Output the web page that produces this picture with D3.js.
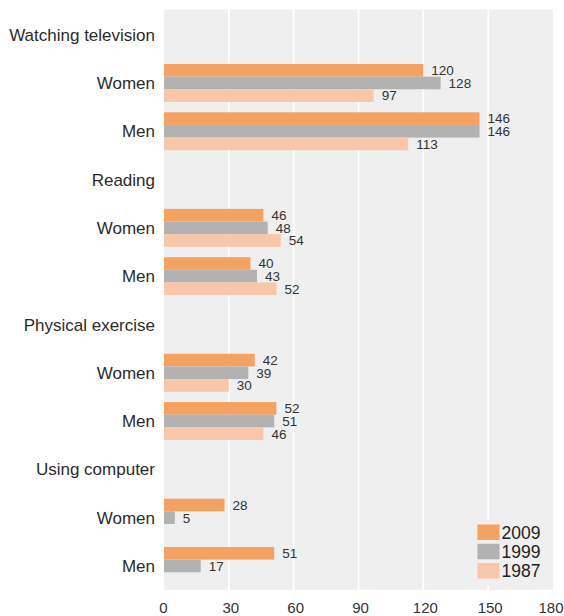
<!DOCTYPE html>
<html><head><meta charset="utf-8">
<script src="https://cdn.jsdelivr.net/npm/d3@7"></script>
<style>body{margin:0;background:#fff;font-family:"Liberation Sans",Arial,Helvetica,sans-serif;}</style>
</head><body><svg id="c" width="564" height="616"></svg>
<script>
const rowLabels = ["Watching television","Women","Men","Reading","Women","Men","Physical exercise","Women","Men","Using computer","Women","Men"];
const series = ["2009","1999","1987"];
const values2009 = [null,120,146,null,46,40,null,42,52,null,28,51];
const values1999 = [null,128,146,null,48,43,null,39,51,null,5,17];
const values1987 = [null,97,113,null,54,52,null,30,46,null,null,null];
const xTicks = [0,30,60,90,120,150,180];
const colors = ["#f4a261","#b2b2b2","#f7c6ab"];

const seriesValues = [values2009, values1999, values1987];
const svg = d3.select("#c");
const plotLeft = 164, plotRight = 553, plotTop = 9.5, plotBottom = 590;

const x = d3.scaleLinear().domain([0,180]).range([plotLeft,plotRight]);
const rows = rowLabels.map((d,i)=>i);
const y = d3.scaleBand().domain(rows).range([10.5, 590.1]);
const ys = d3.scaleBand().domain(series).range([y.bandwidth()*0.107, y.bandwidth()*0.893]);
const color = d3.scaleOrdinal().domain(series).range(colors);

svg.append("rect").attr("x",plotLeft).attr("y",plotTop).attr("width",plotRight-plotLeft).attr("height",plotBottom-plotTop).attr("fill","#efefef");

svg.append("g").selectAll("line").data(xTicks.filter(t=>t>0&&t<180)).join("line")
  .attr("x1",d=>x(d)).attr("x2",d=>x(d)).attr("y1",plotTop).attr("y2",plotBottom)
  .attr("stroke","#fff").attr("stroke-width",1.6);

// bars
const barData = [];
series.forEach((s,si)=>{
  seriesValues[si].forEach((v,i)=>{ if(v!==null) barData.push({s, i, v}); });
});
svg.append("g").selectAll("rect").data(barData).join("rect")
  .attr("x",x(0)).attr("y",d=>y(d.i)+ys(d.s))
  .attr("width",d=>x(d.v)-x(0)).attr("height",ys.bandwidth())
  .attr("fill",d=>color(d.s));
svg.append("g").selectAll("text").data(barData).join("text")
  .attr("x",d=>x(d.v)+8).attr("y",d=>y(d.i)+ys(d.s)+ys.bandwidth()/2)
  .attr("dy","0.36em").attr("font-size",13.5).attr("fill","#333")
  .text(d=>d.v);

// row labels
svg.append("g").selectAll("text").data(rowLabels).join("text")
  .attr("x",155).attr("y",(d,i)=>y(i)+y.bandwidth()/2)
  .attr("dy","0.36em").attr("text-anchor","end").attr("font-size",17).attr("fill","#2b2b2b")
  .text(d=>d);

// x axis
const xAxis = d3.axisBottom(x).tickValues(xTicks).tickSize(0).tickPadding(0);
const gx = svg.append("g").attr("transform",`translate(0,${plotBottom})`).call(xAxis);
gx.select(".domain").remove();
gx.selectAll("text").attr("font-size",15).attr("fill","#333").attr("font-family","Liberation Sans, Arial, sans-serif").attr("dy","1.05em").attr("y",7)
  .attr("x",d=>d===180?-2.5:(d===0?-1:1.5));

// legend
const lg = svg.append("g");
lg.append("rect").attr("x",472).attr("y",520).attr("width",76).attr("height",65).attr("fill","#efefef");
series.forEach((s,i)=>{
  const yy = 524.5 + i*19.3;
  lg.append("rect").attr("x",477.5).attr("y",yy).attr("width",22).attr("height",15.5).attr("fill",color(s));
  lg.append("text").attr("x",501.5).attr("y",yy+7.75).attr("dy","0.36em").attr("font-size",17.5).attr("fill","#222").text(s);
});
</script></body></html>
